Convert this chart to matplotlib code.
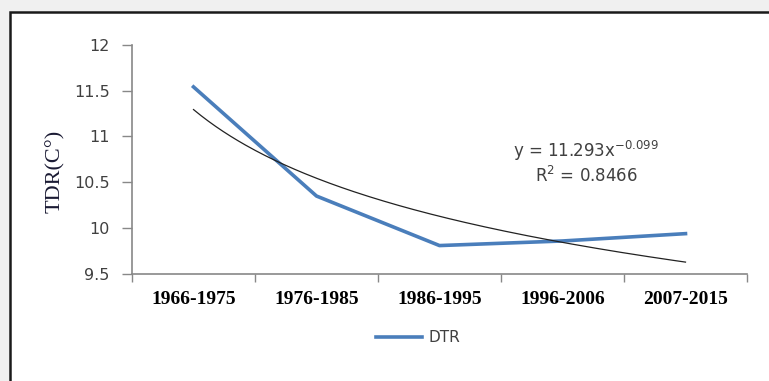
import numpy as np
import matplotlib.pyplot as plt
from matplotlib.patches import Rectangle

# 数据
periods = ['1966-1975', '1976-1985', '1986-1995', '1996-2006', '2007-2015']
dtr = [11.54, 10.35, 9.81, 9.86, 9.94]
# 幂函数趋势线系数 (图中公式)
coef_a = 11.293
coef_b = -0.099
r2 = 0.8466

plt.rcParams['font.family'] = ['DejaVu Sans']

fig = plt.figure(figsize=(7.69, 3.81), dpi=100)
fig.patch.set_facecolor('#f0f0f0')

# 白色外框
fig.patches.append(Rectangle((10 / 769, -0.05), 1.0, 1 - 12 / 381 + 0.05,
                             transform=fig.transFigure, facecolor='white',
                             edgecolor='#1a1a1a', linewidth=1.8, zorder=-5))

ax = fig.add_axes([132 / 769, 1 - 274 / 381, (747 - 132) / 769, (274 - 44.7) / 381])
ax.set_facecolor('none')
ax.set_zorder(2)

x = np.arange(len(periods))
ax.plot(x, dtr, color='#4a7ebb', linewidth=2.6, label='DTR', zorder=3)

xs = np.linspace(1, len(periods), 200)
ax.plot(xs - 1, coef_a * xs ** coef_b, color='#222222', linewidth=0.9, zorder=4)

ax.set_xlim(-0.5, len(periods) - 0.5)
ax.set_ylim(9.5, 12)
ax.set_yticks([9.5, 10, 10.5, 11, 11.5, 12])
ax.set_yticklabels(['9.5', '10', '10.5', '11', '11.5', '12'])

ax.set_xticks(x)
ax.set_xticklabels(periods, fontfamily='Liberation Serif', fontweight='bold',
                   fontsize=14, color='black')
ax.set_xticks(np.arange(-0.5, len(periods), 1), minor=True)
ax.tick_params(axis='x', which='major', length=0, pad=12)
ax.tick_params(axis='x', which='minor', length=6, color='#888888', width=1)
ax.tick_params(axis='y', length=7, color='#888888', width=1, labelsize=11.5,
               labelcolor='#404040', pad=9)

for s in ['top', 'right']:
    ax.spines[s].set_visible(False)
for s in ['left', 'bottom']:
    ax.spines[s].set_color('#888888')
    ax.spines[s].set_linewidth(1.2)

fig.text(55 / 769, 1 - 171 / 381, 'TDR(C°)', family='Liberation Serif',
         fontsize=16, rotation=90, ha='center', va='center', color='#1a1a33')

ax.text(0.738, 0.385, 'y = 11.293x$^{-0.099}$\nR$^{2}$ = 0.8466', transform=ax.transAxes,
        ha='center', va='bottom', fontsize=12, color='#404040', linespacing=1.15)

leg = fig.legend(loc='center', bbox_to_anchor=(418 / 769, 1 - 338 / 381), frameon=False,
                 fontsize=11, handlelength=3.0, handletextpad=0.4)
for t in leg.get_texts():
    t.set_color('#404040')

fig.savefig('out.png', dpi=100, facecolor=fig.get_facecolor())
